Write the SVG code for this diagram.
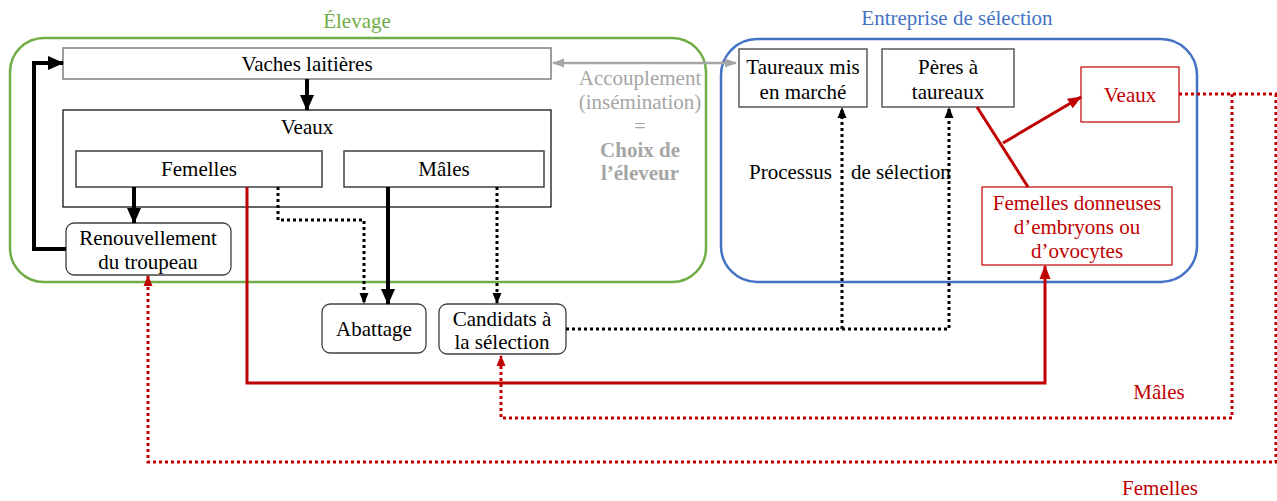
<svg xmlns="http://www.w3.org/2000/svg" width="1277" height="501" viewBox="0 0 1277 501">
<defs>
<style>
text{font-family:"Liberation Serif","Times New Roman",serif;font-size:21px;text-anchor:middle;fill:#000}
.box{fill:#fff;stroke:#000;stroke-width:1.2}
.gbox{fill:#fff;stroke:#7f7f7f;stroke-width:1.5}
.rbox{fill:#fff;stroke:#404040;stroke-width:1.3}
.redbox{fill:#fff;stroke:#C00000;stroke-width:1.2}
.red{fill:#C00000}
.gray{fill:#A6A6A6}
.thick{fill:none;stroke:#000;stroke-width:4}
.dot{fill:none;stroke:#000;stroke-width:3;stroke-dasharray:3 3}
.rsolid{fill:none;stroke:#C00000;stroke-width:3}
.rdot{fill:none;stroke:#C00000;stroke-width:3;stroke-dasharray:3 3}
</style>
<marker id="ak" markerUnits="userSpaceOnUse" markerWidth="16" markerHeight="16" viewBox="0 0 16 16" refX="15" refY="8" orient="auto"><path d="M0,1 L16,8 L0,15 Z" fill="#000"/></marker>
<marker id="ad" markerUnits="userSpaceOnUse" markerWidth="11" markerHeight="10" viewBox="0 0 11 10" refX="10" refY="5" orient="auto"><path d="M0,0.5 L11,5 L0,9.5 Z" fill="#000"/></marker>
<marker id="ar" markerUnits="userSpaceOnUse" markerWidth="14" markerHeight="12" viewBox="0 0 14 12" refX="13" refY="6" orient="auto"><path d="M0,0.5 L14,6 L0,11.5 Z" fill="#C00000"/></marker>
<marker id="ard" markerUnits="userSpaceOnUse" markerWidth="11" markerHeight="10" viewBox="0 0 11 10" refX="10" refY="5" orient="auto"><path d="M0,0.5 L11,5 L0,9.5 Z" fill="#C00000"/></marker>
<marker id="ag" markerUnits="userSpaceOnUse" markerWidth="12" markerHeight="10" viewBox="0 0 12 10" refX="11" refY="5" orient="auto-start-reverse"><path d="M0,0.5 L12,5 L0,9.5 Z" fill="#A6A6A6"/></marker>
</defs>

<g id="containers">
<rect x="10" y="38" width="696" height="244" rx="34" fill="none" stroke="#70AD47" stroke-width="2.5"/>
<text x="357" y="28" style="fill:#70AD47">Élevage</text>
<rect x="721" y="39" width="476" height="243" rx="36" fill="none" stroke="#4472C4" stroke-width="2.5"/>
<text x="957" y="25" style="fill:#4472C4">Entreprise de sélection</text>
</g>

<g id="vaches"><rect class="gbox" x="63" y="48" width="488" height="31"/><text x="307" y="71">Vaches laitières</text></g>
<g id="veaux"><rect class="box" x="63" y="110" width="488" height="97"/><text x="307" y="134">Veaux</text></g>
<g id="femelles"><rect class="gbox" x="76" y="151" width="246" height="36" style="stroke:#404040"/><text x="199" y="176">Femelles</text></g>
<g id="males"><rect class="gbox" x="344" y="151" width="200" height="36" style="stroke:#404040"/><text x="444" y="176">Mâles</text></g>
<g id="renouvellement"><rect class="rbox" x="66" y="223" width="165" height="52" rx="8"/><text x="148" y="245">Renouvellement</text><text x="148" y="269">du troupeau</text></g>
<g id="abattage"><rect class="rbox" x="322" y="304" width="104" height="49" rx="8"/><text x="374" y="336">Abattage</text></g>
<g id="candidats"><rect class="rbox" x="439" y="304" width="127" height="50" rx="8"/><text x="502" y="326">Candidats à</text><text x="502" y="349">la sélection</text></g>
<g id="taureaux"><rect class="rbox" x="739" y="49" width="128" height="58"/><text x="803" y="74">Taureaux mis</text><text x="803" y="99">en marché</text></g>
<g id="peres"><rect class="rbox" x="882" y="49" width="132" height="58"/><text x="948" y="74">Pères à</text><text x="948" y="99">taureaux</text></g>
<g id="veaux-selection"><rect class="redbox" x="1081" y="67" width="98" height="55"/><text class="red" x="1130" y="102">Veaux</text></g>
<g id="femelles-donneuses"><rect class="redbox" x="982" y="187" width="190" height="78"/><text class="red" x="1077" y="210">Femelles donneuses</text><text class="red" x="1077" y="234">d’embryons ou</text><text class="red" x="1077" y="258">d’ovocytes</text></g>

<g id="labels">
<text class="gray" x="640" y="85">Accouplement</text>
<text class="gray" x="640" y="109">(insémination)</text>
<text class="gray" x="640" y="133">=</text>
<text class="gray" x="640" y="157" font-weight="bold">Choix de</text>
<text class="gray" x="640" y="180" font-weight="bold">l’éleveur</text>
<text x="749" y="179" style="text-anchor:start">Processus<tspan x="851">de sélection</tspan></text>
<text class="red" x="1159" y="399">Mâles</text>
<text class="red" x="1160" y="495">Femelles</text>
</g>

<g id="connectors">
<path class="thick" d="M307,79 V110" marker-end="url(#ak)"/>
<path class="thick" d="M134,187 V223" marker-end="url(#ak)"/>
<path class="thick" d="M66,249 H34 V63 H63" marker-end="url(#ak)"/>
<path class="thick" d="M388,187 V304" marker-end="url(#ak)"/>
<path class="dot" d="M278,187 V220 H364 V303" marker-end="url(#ad)"/>
<path class="dot" d="M497,187 V303" marker-end="url(#ad)"/>
<path class="dot" d="M566,329 H949 V108" marker-end="url(#ad)"/>
<path class="dot" d="M842,329 V108" marker-end="url(#ad)"/>
<path d="M553,63 H736" fill="none" stroke="#A6A6A6" stroke-width="2.5" marker-start="url(#ag)" marker-end="url(#ag)"/>
<path class="rsolid" d="M247,187 V383 H1045 V266" marker-end="url(#ar)"/>
<path class="rsolid" d="M977,107 L1028,187"/>
<path class="rsolid" d="M1003,143 L1081,97" marker-end="url(#ar)"/>
<path class="rdot" d="M1179,94 H1277"/>
<path class="rdot" d="M1232,94 V418 H501 V356" marker-end="url(#ard)"/>
<path class="rdot" d="M1276,94 V462 H148 V276" marker-end="url(#ard)"/>
</g>
</svg>
